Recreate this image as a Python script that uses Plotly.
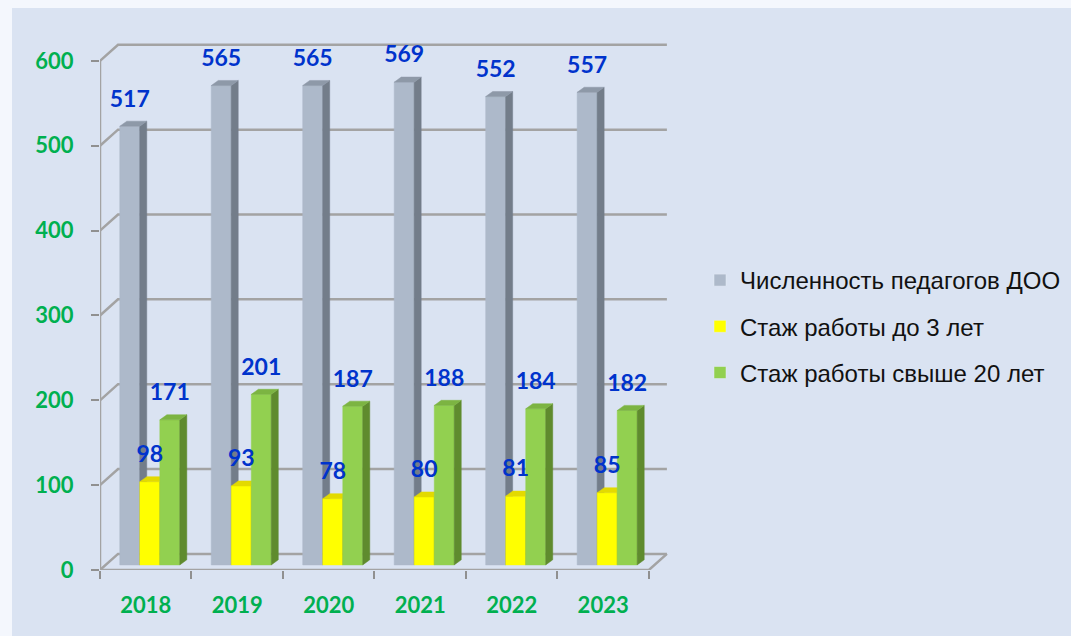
import plotly.graph_objects as go

# ---- data ----
years = ["2018", "2019", "2020", "2021", "2022", "2023"]
series_names = ["Численность педагогов ДОО", "Стаж работы до 3 лет", "Стаж работы свыше 20 лет"]
teachers = [517, 565, 565, 569, 552, 557]
exp_under3 = [98, 93, 78, 80, 81, 85]
exp_over20 = [171, 201, 187, 188, 184, 182]
y_ticks = [0, 100, 200, 300, 400, 500, 600]

series_values = [teachers, exp_under3, exp_over20]
front_colors = ["#ADB9CA", "#FFFF00", "#92D050"]
side_colors = ["#737D8A", "#C9C200", "#5F8B2E"]
top_colors = ["#8E99A8", "#E3DA00", "#7CB442"]

# ---- geometry (data units) ----
W, H = 1071, 636
ML, MR, MT, MB = 100, 402, 27, 66
XR = [-0.5, 5.72]
YR = [0, 640]
offsets = [-0.175, 0.044, 0.263]
bw = 0.218
bdx, bdy = 0.077, 6.0      # bar depth
base = 6.0                 # bar base shift (depth position)
wdx, wdy = 0.197, 19.0     # wall depth
ymax = 600

fig = go.Figure()

# walls / grid
gx, gy = [], []
for v in y_ticks:
    gx += [-0.5, -0.5 + wdx, 5.5 + wdx, None]
    gy += [v, v + wdy, v + wdy, None]
# front left axis line
gx += [-0.5, -0.5, None]
gy += [0, ymax, None]
# floor front edge and right diagonal
gx += [-0.5, 5.5, 5.5 + wdx, None]
gy += [0, 0, wdy, None]
fig.add_trace(go.Scatter(x=gx, y=gy, mode="lines", line=dict(color="#A3A3A3", width=2.5),
                         hoverinfo="skip", showlegend=False))

# bars as 3D polygons
for k, vals in enumerate(series_values):
    fx, fy, sx, sy, tx, ty = [], [], [], [], [], []
    for i, v in enumerate(vals):
        x0 = i + offsets[k] - bw / 2
        x1 = i + offsets[k] + bw / 2
        y0 = base
        y1 = base + v
        fx += [x0, x1, x1, x0, x0, None]
        fy += [y0, y0, y1, y1, y0, None]
        sx += [x1, x1 + bdx, x1 + bdx, x1, x1, None]
        sy += [y0, y0 + bdy, y1 + bdy, y1, y0, None]
        tx += [x0, x1, x1 + bdx, x0 + bdx, x0, None]
        ty += [y1, y1, y1 + bdy, y1 + bdy, y1, None]
    for px, py, col in ((fx, fy, front_colors[k]), (sx, sy, side_colors[k]), (tx, ty, top_colors[k])):
        fig.add_trace(go.Scatter(x=px, y=py, mode="lines", fill="toself", fillcolor=col,
                                 line=dict(color=col, width=0.5), hoverinfo="skip",
                                 showlegend=False))

# data labels
for k, vals in enumerate(series_values):
    fig.add_trace(go.Scatter(
        x=[i + offsets[k] for i in range(len(vals))],
        y=[base + v + 30 for v in vals],
        mode="text", text=[str(v) for v in vals], textposition="middle center",
        textfont=dict(family="Lato, Liberation Sans", size=23, color="#0033CC", weight="bold"),
        hoverinfo="skip", showlegend=False))

# legend entries
for k, name in enumerate(series_names):
    fig.add_trace(go.Bar(x=[None], y=[None], name=name, marker_color=front_colors[k],
                         legendgroup=f"g{k}"))

fig.update_layout(
    width=W, height=H,
    margin=dict(l=ML, r=MR, t=MT, b=MB, autoexpand=False),
    paper_bgcolor="#F4F7FD",
    plot_bgcolor="rgba(0,0,0,0)",
    xaxis=dict(range=XR, showgrid=False, zeroline=False, showline=False,
               tickvals=list(range(len(years))), ticktext=years, ticks="",
               ticklabelstandoff=20, automargin=False,
               tickfont=dict(family="Lato, Liberation Sans", size=22, color="#00B050", weight="bold")),
    xaxis2=dict(range=XR, overlaying="x", side="bottom", anchor="y", showgrid=False,
                zeroline=False, showline=False, showticklabels=False, automargin=False,
                tickvals=[i - 0.5 for i in range(len(years) + 1)],
                ticks="outside", ticklen=8, tickwidth=1.5, tickcolor="#909090"),
    yaxis=dict(range=YR, showgrid=False, zeroline=False, showline=False,
               tickvals=y_ticks, ticks="outside", ticklen=8, tickwidth=1.5, tickcolor="#909090",
               ticklabelstandoff=13, automargin=False,
               tickfont=dict(family="Lato, Liberation Sans", size=22, color="#00B050", weight="bold")),
    legend=dict(xref="container", yref="container", x=700 / W, y=1 - 258 / H,
                xanchor="left", yanchor="top", bgcolor="rgba(0,0,0,0)",
                traceorder="grouped", tracegroupgap=12,
                font=dict(family="Liberation Sans, Noto Sans", size=24, color="#111111")),
    showlegend=True,
)
# dummy trace to activate xaxis2
fig.add_trace(go.Scatter(x=[None], y=[None], xaxis="x2", showlegend=False, hoverinfo="skip"))

# background panel
pw = W - ML - MR
ph = H - MT - MB
def px2paper_x(p):
    return (p - ML) / pw
def px2paper_y(p):
    return (H - MB - p) / ph
fig.add_shape(type="rect", xref="paper", yref="paper", layer="below",
              x0=px2paper_x(12), x1=px2paper_x(W + 5), y0=px2paper_y(H + 5), y1=px2paper_y(8),
              fillcolor="#DAE3F2", line=dict(width=0))

fig.write_html("out.html", config={"displayModeBar": False},
               post_script="document.body.style.margin='0';document.body.style.overflow='hidden';")
